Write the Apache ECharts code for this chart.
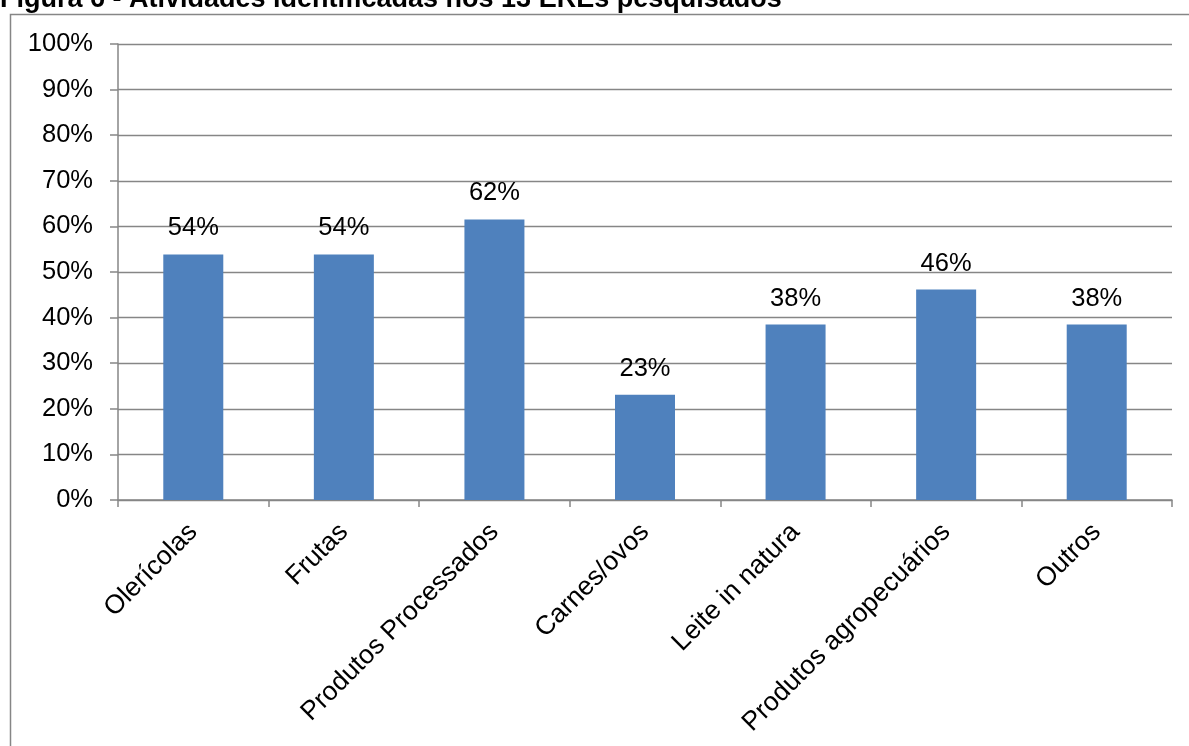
<!DOCTYPE html>
<html><head><meta charset="utf-8">
<script src="https://cdn.jsdelivr.net/npm/echarts@6/dist/echarts.min.js"></script>
<style>html,body{margin:0;padding:0;background:#fff}#c{width:1189px;height:746px}</style>
</head><body><div id="c"></div>
<script>
const title = 'Figura 6 - Atividades identificadas nos 13 EREs pesquisados';
const categories = ['Olerícolas','Frutas','Produtos Processados','Carnes/ovos','Leite in natura','Produtos agropecuários','Outros'];
const values = [0.5385, 0.5385, 0.6154, 0.2308, 0.3846, 0.4615, 0.3846];
const yTicks = [0,0.1,0.2,0.3,0.4,0.5,0.6,0.7,0.8,0.9,1.0];

const chart = echarts.init(document.getElementById('c'));
const F = 'Liberation Sans, Arial, sans-serif';
chart.setOption({
  animation:false,
  textStyle:{fontFamily:F},
  graphic:[
    {type:'rect', shape:{x:10.5,y:14.5,width:1200,height:800}, style:{fill:'none',stroke:'#868686',lineWidth:1.5}, z:0},
    {type:'text', left:0, top:-14, style:{text:title, font:'bold 27px '+F, fill:'#000'}}
  ],
  grid:{left:118, right:17, top:44, bottom:246, containLabel:false},
  xAxis:{type:'category', data:categories,
    axisLine:{lineStyle:{color:'#868686',width:1.5}},
    axisTick:{show:true,length:7,lineStyle:{color:'#868686',width:1.5}},
    axisLabel:{rotate:45, fontSize:26.5, color:'#000', margin:28, interval:0, fontFamily:F}
  },
  yAxis:{type:'value', min:0, max:1, interval:0.1,
    axisLine:{show:true,lineStyle:{color:'#868686',width:1.5}},
    axisTick:{show:true,length:8,lineStyle:{color:'#868686',width:1.5}},
    splitLine:{lineStyle:{color:'#868686',width:1.3}},
    axisLabel:{fontSize:25.5,color:'#000',margin:25,fontFamily:F,
      formatter:v=>Math.round(v*100)+'%'}
  },
  series:[{type:'bar', data:values, barWidth:60,
    itemStyle:{color:'#4F81BD'},
    label:{show:true, position:'top', distance:13, fontSize:25.5, color:'#000', fontFamily:F,
      formatter:p=>Math.round(p.value*100)+'%'}
  }]
});
</script></body></html>
